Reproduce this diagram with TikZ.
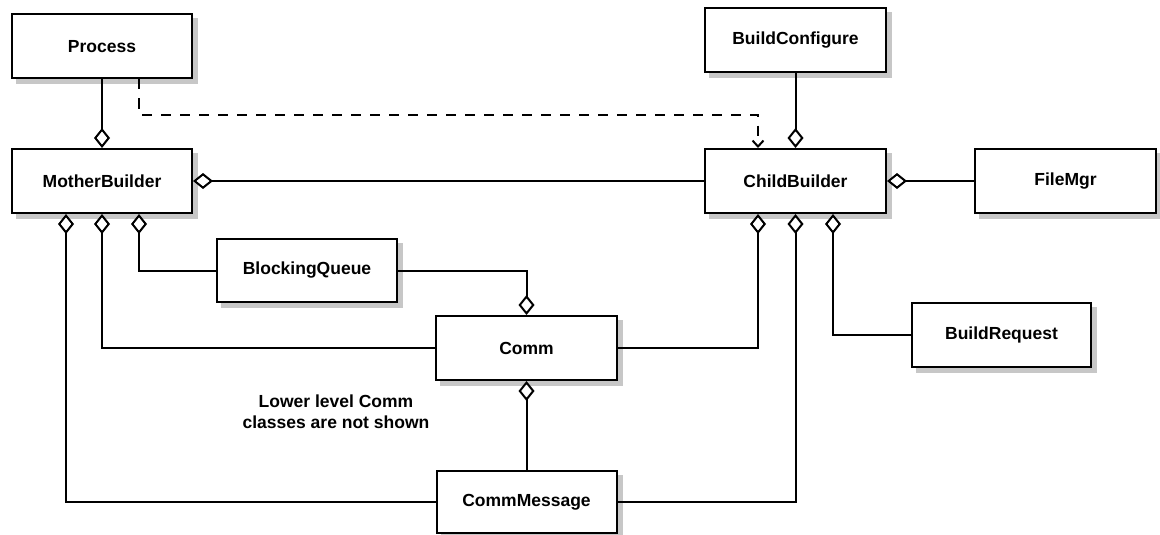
\documentclass[tikz,border=0pt]{standalone}
\usepackage{fontspec}
\setmainfont{Liberation Sans}
\usetikzlibrary{arrows.meta,backgrounds}
\begin{document}
\begin{tikzpicture}[x=1pt,y=-1pt,
  cls/.style={draw=black, line width=2pt, fill=white, minimum width=180pt, minimum height=64pt,
    inner sep=0pt, font=\fontsize{17.5}{20}\selectfont\bfseries},
  shadowbox/.style={fill=black!22},
  conn/.style={line width=2pt, draw=black},
  agg/.style={conn, {Diamond[length=20pt,width=16pt,fill=white,line width=2pt]}-},
  dep/.style={conn, dash pattern=on 10pt off 9pt, -{Straight Barb[length=6pt,width=11pt,line width=2pt]}},
  note/.style={align=center, font=\fontsize{17.5}{21}\selectfont\bfseries, inner sep=0pt}
]
\useasboundingbox (0,0) rectangle (1160,535);

\node[cls] (proc) at (102,46.5) {Process};
\node[cls, minimum width=181pt] (bc) at (795.5,40) {BuildConfigure};
\node[cls] (mb) at (102,181) {MotherBuilder};
\node[cls, minimum width=181pt] (cb) at (795.5,181) {ChildBuilder};
\node[cls, minimum width=181pt] (fm) at (1065.5,181) {FileMgr};
\node[cls, minimum height=63pt] (bq) at (307,270.5) {BlockingQueue};
\node[cls, minimum width=181pt] (comm) at (526.5,348) {Comm};
\node[cls, minimum width=179pt] (br) at (1001.5,335) {BuildRequest};
\node[cls, minimum height=62pt] (cm) at (526.5,502) {CommMessage};

\node[note] (txt) at (336,412) {Lower level Comm\\classes are not shown};

\begin{scope}[on background layer]
  \fill[white] (0,0) rectangle (1160,535);
  \foreach \n in {proc,bc,mb,cb,fm,bq,comm,br,cm}
    \fill[shadowbox] ([shift={(5pt,-5pt)}]\n.south west) rectangle ([shift={(5pt,-5pt)}]\n.north east);
\end{scope}

% aggregations
\draw[agg] (mb.north) -- (proc.south);
\draw[agg] (mb.east) -- (cb.west);
\draw[agg] (cb.north) -- (bc.south);
\draw[agg] (cb.east) -- (fm.west);
\draw[agg] ([xshift=37pt]mb.south) |- (bq.west);
\draw[agg] (mb.south) |- (comm.west);
\draw[agg] ([xshift=-36pt]mb.south) |- (cm.west);
\draw[agg] (comm.north) |- (bq.east);
\draw[agg] (comm.south) -- (cm.north);
\draw[agg] ([xshift=-37.5pt]cb.south) |- (comm.east);
\draw[agg] (cb.south) |- (cm.east);
\draw[agg] ([xshift=37.5pt]cb.south) |- (br.west);

% dependency
\coordinate (ds) at ([xshift=37pt]proc.south);
\coordinate (dt) at ([xshift=-37.5pt]cb.north);
\draw[dep] (ds) -- ++(0,35) -| (dt);
\end{tikzpicture}
\end{document}
